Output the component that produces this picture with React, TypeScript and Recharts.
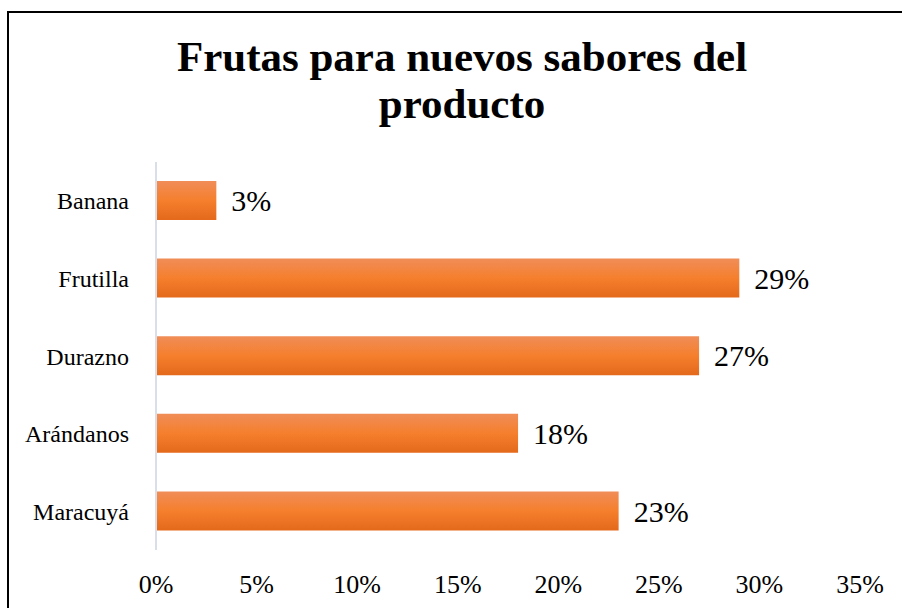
import { Bar, BarChart, LabelList, XAxis, YAxis } from "recharts";

const fruits = ["Banana", "Frutilla", "Durazno", "Arándanos", "Maracuyá"];
const shares = [3, 29, 27, 18, 23];
const pctTicks = [0, 5, 10, 15, 20, 25, 30, 35];

const data = fruits.map((name, i) => ({ name, share: shares[i] }));

const serif = "Liberation Serif, Times New Roman, serif";

export default function App() {
  return (
    <div
      style={{
        position: "fixed",
        left: 0,
        top: 0,
        width: 902,
        height: 608,
        overflow: "hidden",
        background: "#fff",
        fontFamily: serif,
      }}
    >
      <div
        style={{
          position: "absolute",
          left: 7,
          top: 11,
          width: 1000,
          height: 1000,
          borderLeft: "2px solid #000",
          borderTop: "2px solid #000",
        }}
      />
      <div
        style={{
          position: "absolute",
          left: 22,
          top: 33,
          width: 880,
          textAlign: "center",
          fontSize: 43,
          fontWeight: "bold",
          lineHeight: "47px",
          color: "#000",
        }}
      >
        Frutas para nuevos sabores del
        <br />
        producto
      </div>
      <div style={{ position: "absolute", left: 0, top: 0 }}>
        <BarChart
          width={902}
          height={608}
          data={data}
          layout="vertical"
          margin={{ top: 162, right: 42, bottom: 0, left: 0 }}
          style={{ fontFamily: serif }}
        >
          <defs>
            <linearGradient id="barFill" x1="0" y1="0" x2="0" y2="1">
              <stop offset="0%" stopColor="#F08D58" />
              <stop offset="50%" stopColor="#F57F2D" />
              <stop offset="100%" stopColor="#E4691B" />
            </linearGradient>
          </defs>
          <XAxis
            type="number"
            domain={[0, 35]}
            ticks={pctTicks}
            tickFormatter={(v) => `${v}%`}
            height={58}
            tickLine={false}
            axisLine={false}
            tickMargin={19}
            tick={{ fontSize: 26, fill: "#000", style: { fontFamily: serif } }}
          />
          <YAxis
            type="category"
            dataKey="name"
            width={156}
            tickLine={false}
            tickMargin={21}
            axisLine={{ stroke: "#D9DEE8", strokeWidth: 2 }}
            tick={{ fontSize: 24, fill: "#000", style: { fontFamily: serif } }}
          />
          <Bar
            dataKey="share"
            fill="url(#barFill)"
            barSize={39}
            isAnimationActive={false}
          >
            <LabelList
              dataKey="share"
              position="right"
              offset={15}
              formatter={(v: any) => `${v}%`}
              fontSize={30}
              fill="#000"
              style={{ fontFamily: serif }}
            />
          </Bar>
        </BarChart>
      </div>
    </div>
  );
}
